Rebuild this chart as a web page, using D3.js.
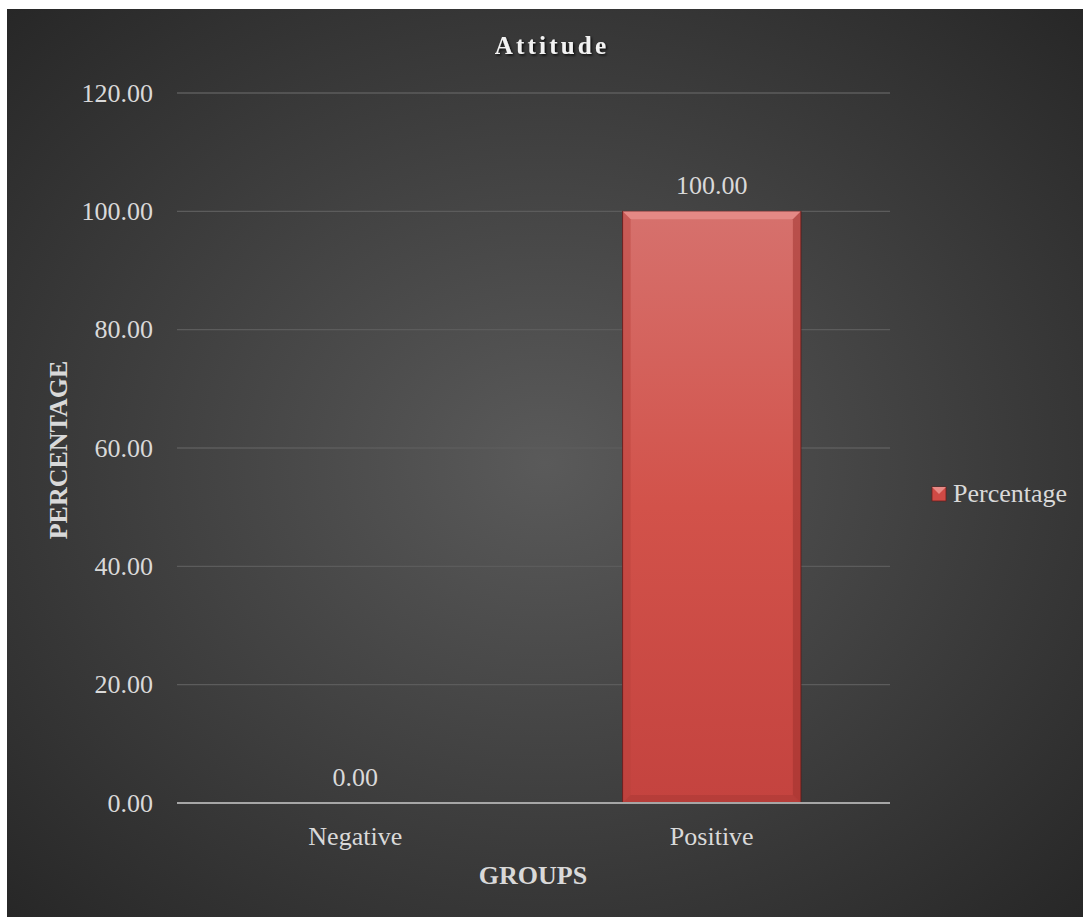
<!DOCTYPE html>
<html><head><meta charset="utf-8">
<script src="https://cdn.jsdelivr.net/npm/d3@7"></script>
<style>html,body{margin:0;padding:0;background:#fff;}svg{display:block;}</style>
</head><body>
<svg id="c" width="1083" height="917"></svg>
<script>
const categories = ["Negative", "Positive"];
const values = [0.00, 100.00];
const yTicks = [0, 20, 40, 60, 80, 100, 120];
const seriesName = "Percentage";
const title = "Attitude";
const xTitle = "GROUPS";
const yTitle = "PERCENTAGE";

(function(){
const svg = d3.select("#c");
const defs = svg.append("defs");
const rg = defs.append("radialGradient").attr("id","bg").attr("cx","0.5").attr("cy","0.5").attr("r","0.72");
rg.append("stop").attr("offset","0").attr("stop-color","#5a5a5a");
rg.append("stop").attr("offset","1").attr("stop-color","#262626");
const bg = defs.append("linearGradient").attr("id","bar").attr("x1",0).attr("y1",0).attr("x2",0).attr("y2",1);
bg.append("stop").attr("offset","0").attr("stop-color","#d6716d");
bg.append("stop").attr("offset","0.5").attr("stop-color","#d2524a");
bg.append("stop").attr("offset","1").attr("stop-color","#c4433f");
const sh = defs.append("filter").attr("id","ts").attr("x","-10%").attr("y","-10%").attr("width","130%").attr("height","150%");
sh.append("feDropShadow").attr("dx",1.5).attr("dy",1.5).attr("stdDeviation",1).attr("flood-color","#000").attr("flood-opacity",0.8);

svg.append("rect").attr("x",7).attr("y",9).attr("width",1076).attr("height",908).attr("fill","url(#bg)");

const pl = 177, pr = 890, pt = 93, pb = 803;
const x = d3.scaleBand().domain(categories).range([pl, pr]).paddingInner(0.5).paddingOuter(0.25);
const y = d3.scaleLinear().domain([0, 120]).range([pb, pt]);

const font = "'Liberation Serif','Times New Roman',serif";
const fs = 26;

svg.append("g").selectAll("line").data(yTicks.filter(d=>d>0)).join("line")
  .attr("x1",pl).attr("x2",pr).attr("y1",d=>y(d)).attr("y2",d=>y(d))
  .attr("stroke","#5c5c5c").attr("stroke-width",1.3);

const yAxis = d3.axisLeft(y).tickValues(yTicks).tickFormat(d3.format(".2f")).tickSize(0).tickPadding(0);
const ya = svg.append("g").attr("transform",`translate(${pl-24},0)`).call(yAxis);
ya.select(".domain").remove();
ya.selectAll("text").attr("font-family",font).attr("font-size",fs).attr("fill","#d9d9d9").attr("dy","0.32em");

const data = categories.map((c,i)=>({c,v:values[i]}));
const bars = svg.append("g").selectAll("g").data(data).join("g");
bars.append("rect").attr("x",d=>x(d.c)).attr("y",d=>y(d.v)).attr("width",x.bandwidth())
  .attr("height",d=>Math.max(0,y(0)-y(d.v))).attr("fill","url(#bar)")
  .attr("stroke",d=>d.v>0?"#5a1a18":"none").attr("stroke-width",1);
bars.filter(d=>d.v>0).each(function(d){
  const g=d3.select(this), x0=x(d.c), x1=x0+x.bandwidth(), y0=y(d.v), y1=y(0), b=8;
  g.append("path").attr("d",`M${x0},${y0}L${x1},${y0}L${x1-b},${y0+b}L${x0+b},${y0+b}Z`).attr("fill","#ea928e").attr("opacity",0.75);
  g.append("path").attr("d",`M${x0},${y0}L${x0+b},${y0+b}L${x0+b},${y1-b}L${x0},${y1}Z`).attr("fill","#b8403c").attr("opacity",0.45);
  g.append("path").attr("d",`M${x1},${y0}L${x1-b},${y0+b}L${x1-b},${y1-b}L${x1},${y1}Z`).attr("fill","#9c302c").attr("opacity",0.5);
  g.append("path").attr("d",`M${x0},${y1}L${x0+b},${y1-b}L${x1-b},${y1-b}L${x1},${y1}Z`).attr("fill","#a83834").attr("opacity",0.5);
});

svg.append("g").selectAll("text").data(data).join("text")
  .attr("x",d=>x(d.c)+x.bandwidth()/2).attr("y",d=>y(d.v)-17)
  .attr("text-anchor","middle").attr("font-family",font).attr("font-size",fs).attr("fill","#d9d9d9")
  .text(d=>d3.format(".2f")(d.v));

svg.append("line").attr("x1",pl).attr("x2",pr).attr("y1",y(0)).attr("y2",y(0)).attr("stroke","#a6a6a6").attr("stroke-width",2);

const xAxis = d3.axisBottom(x).tickSize(0).tickPadding(0);
const xa = svg.append("g").attr("transform",`translate(0,${pb+42})`).call(xAxis);
xa.select(".domain").remove();
xa.selectAll("text").attr("font-family",font).attr("font-size",fs).attr("fill","#d9d9d9").attr("dy","0");

svg.append("text").attr("x",552).attr("y",54).attr("text-anchor","middle").attr("font-family",font)
  .attr("font-size",25).attr("font-weight","bold").attr("letter-spacing",3.2).attr("fill","#f2f2f2").attr("filter","url(#ts)").text(title);

svg.append("text").attr("x",533).attr("y",884).attr("text-anchor","middle").attr("font-family",font)
  .attr("font-size",fs).attr("font-weight","bold").attr("fill","#d9d9d9").text(xTitle);
svg.append("text").attr("transform",`translate(67,450) rotate(-90)`).attr("text-anchor","middle").attr("font-family",font)
  .attr("font-size",fs).attr("font-weight","bold").attr("fill","#d9d9d9").text(yTitle);

const lg = svg.append("g").attr("transform","translate(932,487)");
lg.append("rect").attr("width",14).attr("height",14).attr("fill","#d04a45").attr("stroke","#6a1e1c").attr("stroke-width",0.8);
lg.append("path").attr("d","M0,0L14,0L7,7Z").attr("fill","#e88a86");
lg.append("text").attr("x",21).attr("y",15).attr("font-family",font).attr("font-size",fs).attr("fill","#d9d9d9").text(seriesName);
})();
</script>
</body></html>
